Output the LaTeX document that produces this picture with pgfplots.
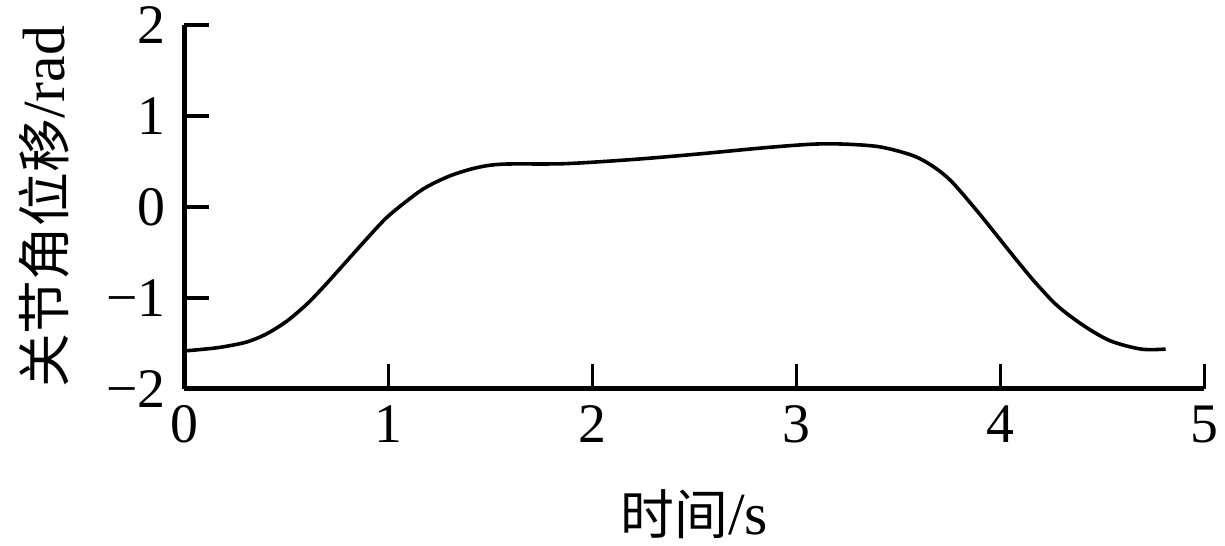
\documentclass[border=0pt]{standalone}
\usepackage{fontspec}
\setmainfont{Liberation Serif}
\newfontfamily\cjk{Noto Sans CJK SC}
\usepackage{pgfplots}
\pgfplotsset{compat=1.18}

\pgfplotstableread{
t y
0.00 -1.585
0.16 -1.55
0.30 -1.49
0.40 -1.40
0.50 -1.26
0.60 -1.07
0.69 -0.86
0.79 -0.61
0.89 -0.36
0.99 -0.12
1.09 0.065
1.18 0.21
1.30 0.34
1.43 0.43
1.56 0.47
1.86 0.475
2.19 0.52
2.51 0.58
2.84 0.65
3.08 0.69
3.24 0.69
3.41 0.66
3.57 0.565
3.67 0.445
3.76 0.28
3.88 -0.03
3.97 -0.28
4.07 -0.56
4.17 -0.83
4.28 -1.09
4.41 -1.31
4.54 -1.475
4.69 -1.565
4.81 -1.565
}\joint

\begin{document}
\begin{tikzpicture}
\begin{axis}[
  scale only axis,
  width=512pt, height=182.5pt,
  xmin=0, xmax=5, ymin=-2, ymax=2,
  axis x line*=bottom, axis y line*=left,
  axis line style={line width=2.2pt},
  tick align=inside,
  major tick length=12.5pt,
  tick style={line width=1.8pt, black},
  xtick={0,1,2,3,4,5},
  ytick={-2,-1,0,1,2},
  yticklabels={−2,−1,0,1,2},
  /pgf/number format/assume math mode=true,
  tick label style={font=\fontsize{28}{32}\selectfont},
  xticklabel style={yshift=-5pt},
  yticklabel style={xshift=-6pt},
  xlabel={\fontsize{30}{32}\selectfont{\cjk\fontsize{27}{32}\selectfont 时间}/s},
  ylabel={\fontsize{30}{32}\selectfont{\cjk\fontsize{27}{32}\selectfont 关节角位移}/rad},
  xlabel style={at={(axis description cs:0.5,-0.345)}, anchor=center},
  ylabel style={at={(axis description cs:-0.138,0.5)}, anchor=center},
  clip=false,
]
\addplot[black, line width=1.8pt, smooth] table[x=t, y=y] {\joint};
\end{axis}
\path ([xshift=-6pt]current bounding box.west);
\end{tikzpicture}
\end{document}
